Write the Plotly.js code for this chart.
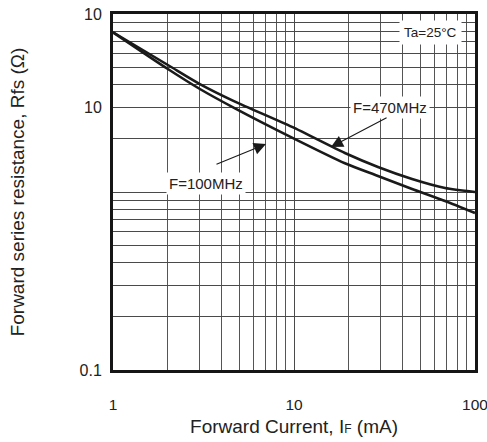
<!DOCTYPE html>
<html>
<head>
<meta charset="utf-8">
<script src="https://cdn.plot.ly/plotly-3.0.1.min.js"></script>
<style>html,body{margin:0;padding:0;background:#fff;}#chart{width:487px;height:442px;}</style>
</head>
<body>
<div id="chart"></div>
<script>
// Forward current (mA)
const currentF470 = [1, 2.01, 3.02, 4.72, 9.75, 19.1, 29.1, 44.9, 68.3, 100];
const rfsF470     = [7.89, 5.17, 4.04, 3.22, 2.32, 1.656, 1.382, 1.183, 1.053, 1.0];
const currentF100 = [1, 2.01, 3.02, 4.72, 9.75, 19.1, 29.1, 44.9, 68.3, 100];
const rfsF100     = [7.89, 4.91, 3.79, 2.95, 2.02, 1.45, 1.23, 1.04, 0.890, 0.762];

const xTickVals = [1, 10, 100];
const xTickText = ["1", "10", "100"];
const xGridVals = [1,2,3,4,5,6,7,8,9,10,20,30,40,50,60,70,80,90,100];
const yTickVals = [0.1, 3, 10];
const yTickText = ["0.1", "10", "10"];
const yGridVals = [0.1,0.2,0.3,0.4,0.5,0.6,0.7,0.8,0.9,1,2,3,4,5,6,7,8,9,10];

const font = "Liberation Sans, Arial, Helvetica, sans-serif";
const L = Math.log10;

const lineStyle = {color: "#1a1a1a", width: 2.6, shape: "spline", smoothing: 0.7};
const data = [
  {x: currentF470, y: rfsF470, mode: "lines", line: lineStyle, name: "F=470MHz", hoverinfo: "skip"},
  {x: currentF100, y: rfsF100, mode: "lines", line: lineStyle, name: "F=100MHz", hoverinfo: "skip"}
];

const layout = {
  width: 487, height: 442,
  margin: {l: 113, r: 12, t: 14, b: 72},
  paper_bgcolor: "#fff", plot_bgcolor: "#fff",
  showlegend: false,
  font: {family: font, size: 16, color: "#222"},
  xaxis: {
    type: "log", range: [0, 2],
    tickmode: "array", tickvals: xTickVals, ticktext: xTickText,
    showgrid: true, gridcolor: "#4a4a4a", gridwidth: 1,
    minor: {tickmode: "array", tickvals: xGridVals, showgrid: true, gridcolor: "#555", gridwidth: 1, ticks: ""},
    ticks: "", ticklabelstandoff: 18, ticklabeloverflow: "allow",
    showline: true, linecolor: "#161616", linewidth: 3, mirror: true,
    zeroline: false,
    tickfont: {family: font, size: 15.5, color: "#222"},
    title: {text: "Forward Current, I<span style=\"font-size:12px\">F</span> (mA)", font: {family: font, size: 19, color: "#222"}, standoff: 9}
  },
  yaxis: {
    type: "log", range: [-1, 1],
    tickmode: "array", tickvals: yTickVals, ticktext: yTickText,
    showgrid: false,
    minor: {tickmode: "array", tickvals: yGridVals, showgrid: true, gridcolor: "#4a4a4a", gridwidth: 1, ticks: ""},
    ticks: "", ticklabelstandoff: 5,
    showline: true, linecolor: "#161616", linewidth: 3, mirror: true,
    zeroline: false,
    tickfont: {family: font, size: 16, color: "#222"},
    title: {text: "Forward series resistance, Rfs (Ω)", font: {family: font, size: 19, color: "#222"}, standoff: 50}
  },
  annotations: [
    {x: L(57), y: L(7.9), xref: "x", yref: "y", text: "Ta=25°C", showarrow: false,
     bgcolor: "#fff", borderpad: 4, font: {family: font, size: 13.5, color: "#222"}},
    {x: L(33.9), y: L(3.0), xref: "x", yref: "y", text: "F=470MHz", showarrow: false,
     bgcolor: "#fff", borderpad: 2, font: {family: font, size: 15, color: "#222"}},
    {x: L(3.26), y: L(1.12), xref: "x", yref: "y", text: "F=100MHz", showarrow: false,
     bgcolor: "#fff", borderpad: 2, font: {family: font, size: 15, color: "#222"}},
    {x: L(16.0), y: L(1.79), ax: L(33.1), ay: L(2.64), xref: "x", yref: "y", axref: "x", ayref: "y",
     text: "", showarrow: true, arrowhead: 2, arrowsize: 2.2, arrowwidth: 1.1, arrowcolor: "#1a1a1a"},
    {x: L(7.0), y: L(1.86), ax: L(3.66), ay: L(1.42), xref: "x", yref: "y", axref: "x", ayref: "y",
     text: "", showarrow: true, arrowhead: 2, arrowsize: 2.2, arrowwidth: 1.1, arrowcolor: "#1a1a1a"}
  ]
};

Plotly.newPlot("chart", data, layout, {displayModeBar: false, staticPlot: true});
</script>
</body>
</html>
